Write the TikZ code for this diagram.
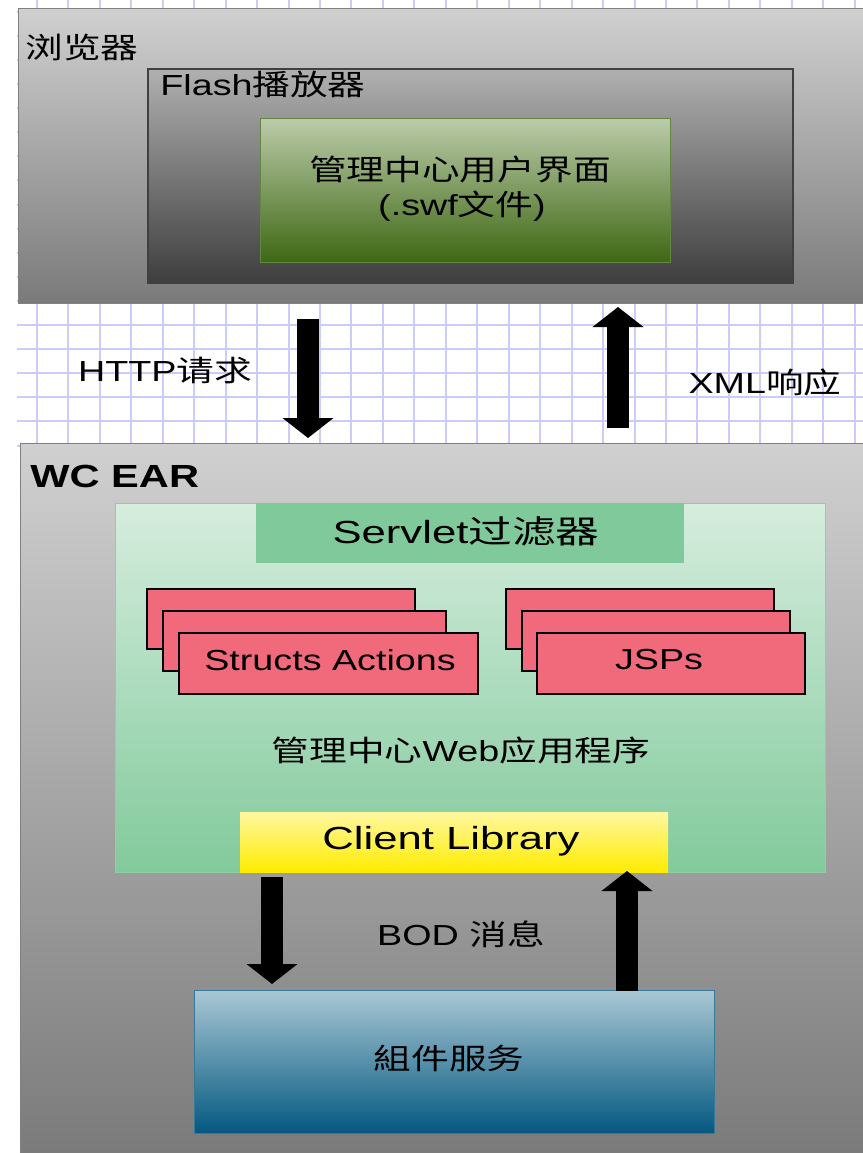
\documentclass[tikz,border=0pt]{standalone}
\usepackage{fontspec}
\usepackage{graphicx}
\setmainfont{Liberation Sans}[FakeStretch=1.3]
\newfontfamily\cjk{Noto Sans CJK SC}[FakeStretch=1.3]
\usetikzlibrary{arrows.meta}
\definecolor{gridline}{RGB}{204,204,250}
\definecolor{greytop}{RGB}{208,208,208}
\definecolor{greybot}{RGB}{122,122,122}
\definecolor{flashtop}{RGB}{176,176,176}
\definecolor{flashbot}{RGB}{62,62,62}
\definecolor{swftop}{RGB}{188,204,170}
\definecolor{swfbot}{RGB}{62,104,20}
\definecolor{apptop}{RGB}{214,237,222}
\definecolor{appbot}{RGB}{130,202,156}
\definecolor{servletgreen}{RGB}{128,201,154}
\definecolor{pinkred}{RGB}{240,106,124}
\definecolor{libtop}{RGB}{255,247,160}
\definecolor{libbot}{RGB}{255,236,0}
\definecolor{comptop}{RGB}{170,200,212}
\definecolor{compbot}{RGB}{4,88,128}
\tikzset{
  lbl/.style={font=\fontsize{14.5}{17}\selectfont, inner sep=0pt},
  bigarrow/.style={line width=11pt, -{Triangle[width=25pt,length=10pt]}},
  pinkbox/.style={draw=black, line width=1pt, fill=pinkred},
  gridrule/.style={draw=gridline, line width=1pt}
}
\begin{document}
\begin{tikzpicture}[x=0.5pt,y=-0.5pt]
        \useasboundingbox (0,0) rectangle (863,1153);
        \clip (0,0) rectangle (863,1153);
        \fill[white] (0,0) rectangle (863,1153);
        % grid paper
        \foreach \k in {1,...,27}
            \draw[gridrule] ({5.5+31.45*\k},0) -- ({5.5+31.45*\k},443);
        \foreach \k in {-13,...,5}
            \draw[gridrule] (17,{325+24.1*\k}) -- (863,{325+24.1*\k});

        % browser
        \draw[draw=gray, top color=greytop, bottom color=greybot] (18,8) rectangle (870,303);
        \node[lbl, anchor=west] (browserlbl) at (25,47) {\cjk 浏览器};
        % flash player
        \draw[draw=black!75, line width=1pt, top color=flashtop, bottom color=flashbot] (148,69) rectangle (793,283);
        \node[lbl, anchor=west] (flashlbl) at (160,84) {Flash{\cjk 播放器}};
        % swf
        \draw[draw=swfbot!80, top color=swftop, bottom color=swfbot] (260,118) rectangle (670,262);
        \node[lbl] (swfname) at (460,169) {\cjk 管理中心用户界面};
        \node[lbl] (swffile) at (462,206) {(.swf{\cjk 文件})};

        \node[lbl] (httplbl) at (165,370) {HTTP{\cjk 请求}};
        \node[lbl] (xmllbl) at (765,382) {XML{\cjk 响应}};

        % WC EAR
        \draw[draw=gray, top color=greytop, bottom color=greybot] (20,443) rectangle (870,1160);
        \node[lbl, font=\fontsize{16}{19}\selectfont\bfseries, anchor=west] (earlbl) at (30,476) {WC EAR};
        % web app
        \draw[draw=appbot!90!white, top color=apptop, bottom color=appbot] (115,503) rectangle (825,872);
        \fill[servletgreen] (256,503) rectangle (684,563);
        \node[lbl, font=\fontsize{16}{19}\selectfont] (servletlbl) at (466,531) {\scalebox{1.05}[1]{Servlet{\cjk 过滤器}}};

        \draw[pinkbox] (147,589) rectangle (415,649);
        \draw[pinkbox] (163,611) rectangle (446,671);
        \draw[pinkbox] (179,633) rectangle (478,694);
        \node[lbl] (actionslbl) at (330,660) {Structs Actions};
        \draw[pinkbox] (506,589) rectangle (774,649);
        \draw[pinkbox] (522,611) rectangle (790,671);
        \draw[pinkbox] (537,633) rectangle (805,694);
        \node[lbl] (jspslbl) at (659,660) {JSPs};

        \node[lbl] (applbl) at (461,750) {{\cjk 管理中心}Web{\cjk 应用程序}};
        % client library
        \fill[top color=libtop, bottom color=libbot] (240,812) rectangle (668,872);
        \node[lbl, font=\fontsize{16}{19}\selectfont] (liblbl) at (451,841) {\scalebox{1.05}[1]{Client Library}};

        \node[lbl] (bodlbl) at (461,934) {BOD {\cjk 消息}};
        % component services
        \draw[draw=compbot!80, top color=comptop, bottom color=compbot] (194,990) rectangle (714,1133);
        \node[lbl] (complbl) at (449,1058) {\cjk 組件服务};

        % arrows
        \coordinate (httpA) at (308,319);
        \coordinate (httpB) at (308,438);
        \coordinate (xmlA) at (618,428);
        \coordinate (xmlB) at (618,307);
        \coordinate (bodA) at (272,877);
        \coordinate (bodB) at (272,984);
        \coordinate (bodC) at (627,991);
        \coordinate (bodD) at (627,871);
        \draw[bigarrow] (httpA) -- (httpB);
        \draw[bigarrow] (xmlA) -- (xmlB);
        \draw[bigarrow] (bodA) -- (bodB);
        \draw[bigarrow] (bodC) -- (bodD);
\end{tikzpicture}
\end{document}
